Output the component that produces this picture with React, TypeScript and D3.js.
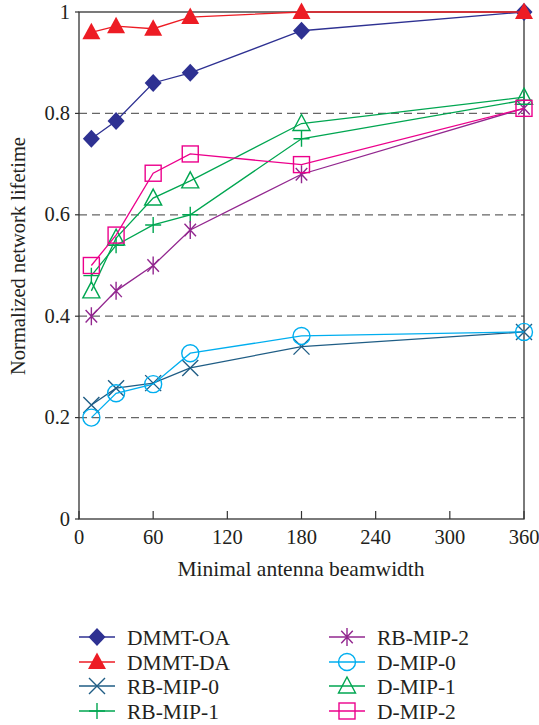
import React from "react";
import * as d3 from "d3";

// beamwidth values on the x axis
const beamwidths = [10, 30, 60, 90, 180, 360];
const xTicks = [0, 60, 120, 180, 240, 300, 360];
const yTicks = [0, 0.2, 0.4, 0.6, 0.8, 1];
const yTickLabels = ["0", "0.2", "0.4", "0.6", "0.8", "1"];

const dmmtOA = [0.75, 0.785, 0.86, 0.88, 0.963, 1.0];
const dmmtDA = [0.96, 0.972, 0.967, 0.99, 1.0, 1.0];
const rbMip0 = [0.225, 0.258, 0.268, 0.298, 0.34, 0.369];
const rbMip1 = [0.48, 0.54, 0.58, 0.6, 0.75, 0.826];
const rbMip2 = [0.4, 0.45, 0.5, 0.57, 0.68, 0.81];
const dMip0 = [0.2, 0.248, 0.266, 0.327, 0.361, 0.369];
const dMip1 = [0.45, 0.554, 0.633, 0.667, 0.78, 0.832];
const dMip2 = [0.5, 0.56, 0.682, 0.72, 0.699, 0.81];

type Shape = "diamond" | "triangleFill" | "x" | "plus" | "asterisk" | "circle" | "triangle" | "square";

const series: { name: string; values: number[]; color: string; shape: Shape }[] = [
  { name: "DMMT-OA", values: dmmtOA, color: "#2e3192", shape: "diamond" },
  { name: "DMMT-DA", values: dmmtDA, color: "#ed1c24", shape: "triangleFill" },
  { name: "RB-MIP-0", values: rbMip0, color: "#1f5d85", shape: "x" },
  { name: "RB-MIP-1", values: rbMip1, color: "#00a651", shape: "plus" },
  { name: "RB-MIP-2", values: rbMip2, color: "#92278f", shape: "asterisk" },
  { name: "D-MIP-0", values: dMip0, color: "#00aeef", shape: "circle" },
  { name: "D-MIP-1", values: dMip1, color: "#00a651", shape: "triangle" },
  { name: "D-MIP-2", values: dMip2, color: "#ec008c", shape: "square" },
];

const FONT = "'Liberation Serif', 'DejaVu Serif', serif";

const Marker = ({ shape, x, y, color }: { shape: Shape; x: number; y: number; color: string }) => {
  const s = 8.5;
  const stroke = { stroke: color, strokeWidth: 1.4, fill: "none" };
  switch (shape) {
    case "diamond":
      return <path d={`M${x},${y - s - 0.5}L${x + s},${y}L${x},${y + s + 0.5}L${x - s},${y}Z`} fill={color} />;
    case "triangleFill":
      return <path d={`M${x},${y - 9.5}L${x + 9},${y + 7}L${x - 9},${y + 7}Z`} fill={color} />;
    case "triangle":
      return <path d={`M${x},${y - 9}L${x + 8.5},${y + 7}L${x - 8.5},${y + 7}Z`} {...stroke} />;
    case "square":
      return <rect x={x - 8} y={y - 8} width={16} height={16} {...stroke} />;
    case "circle":
      return <circle cx={x} cy={y} r={8.5} {...stroke} />;
    case "x":
      return <path d={`M${x - 8},${y - 8}L${x + 8},${y + 8}M${x - 8},${y + 8}L${x + 8},${y - 8}`} {...stroke} />;
    case "plus":
      return <path d={`M${x - 8},${y}L${x + 8},${y}M${x},${y - 8}L${x},${y + 8}`} {...stroke} />;
    case "asterisk": {
      const dx = 8.5 * Math.cos(Math.PI / 3.8);
      const dy = 8.5 * Math.sin(Math.PI / 3.8);
      return (
        <path
          d={`M${x},${y - 9}L${x},${y + 9}M${x - dx},${y - dy}L${x + dx},${y + dy}M${x - dx},${y + dy}L${x + dx},${y - dy}`}
          {...stroke}
        />
      );
    }
  }
  return null;
};

export default function App() {
  const width = 539;
  const height = 725;
  const left = 79;
  const right = 524;
  const top = 12;
  const bottom = 519;

  const x = d3.scaleLinear().domain([0, 360]).range([left, right]);
  const y = d3.scaleLinear().domain([0, 1]).range([bottom, top]);

  const line = d3
    .line<number>()
    .x((_, i) => x(beamwidths[i]))
    .y((d) => y(d));

  const legendRows = [637, 662, 686, 711];

  return (
    <svg
      width={width}
      height={height}
      style={{ position: "absolute", left: 0, top: 0, background: "#fff" }}
      fontFamily={FONT}
    >
      {/* dashed grid */}
      {[0.2, 0.4, 0.6, 0.8].map((t) => (
        <line key={t} x1={left} x2={right} y1={y(t)} y2={y(t)} stroke="#666" strokeWidth={1.2} strokeDasharray="8,5" />
      ))}

      {/* frame */}
      <rect x={left} y={top} width={right - left} height={bottom - top} fill="none" stroke="#333" strokeWidth={1.3} />

      {/* x ticks */}
      {xTicks.map((t) => (
        <g key={t}>
          <line x1={x(t)} x2={x(t)} y1={bottom} y2={bottom - 8} stroke="#333" strokeWidth={1.2} />
          <text x={x(t)} y={544} textAnchor="middle" fontSize={20.5} fill="#231f20">
            {t}
          </text>
        </g>
      ))}

      {/* y ticks */}
      {yTicks.map((t, i) => (
        <g key={t}>
          <line x1={left - 4} x2={left} y1={y(t)} y2={y(t)} stroke="#333" strokeWidth={1.2} />
          <text x={70} y={y(t) + 6.5} textAnchor="end" fontSize={20.5} fill="#231f20">
            {yTickLabels[i]}
          </text>
        </g>
      ))}

      <text x={301} y={576} textAnchor="middle" fontSize={21.5} fill="#231f20">
        Minimal antenna beamwidth
      </text>
      <text transform="translate(25,256) rotate(-90)" textAnchor="middle" fontSize={20.5} fill="#231f20">
        Normalized network lifetime
      </text>

      {/* series */}
      {series.map((s) => (
        <g key={s.name}>
          <path d={line(s.values) ?? ""} fill="none" stroke={s.color} strokeWidth={1.3} />
          {s.values.map((v, i) => (
            <Marker key={i} shape={s.shape} x={x(beamwidths[i])} y={y(v)} color={s.color} />
          ))}
        </g>
      ))}

      {/* legend */}
      {series.map((s, i) => {
        const col = Math.floor(i / 4);
        const row = i % 4;
        const lx = col === 0 ? 79 : 329;
        const ly = legendRows[row];
        return (
          <g key={s.name}>
            <line x1={lx} x2={lx + 36} y1={ly} y2={ly} stroke={s.color} strokeWidth={1.3} />
            <Marker shape={s.shape} x={lx + 18} y={ly} color={s.color} />
            <text x={lx + 48} y={ly + 7.5} fontSize={21.5} fill="#231f20">
              {s.name}
            </text>
          </g>
        );
      })}
    </svg>
  );
}
